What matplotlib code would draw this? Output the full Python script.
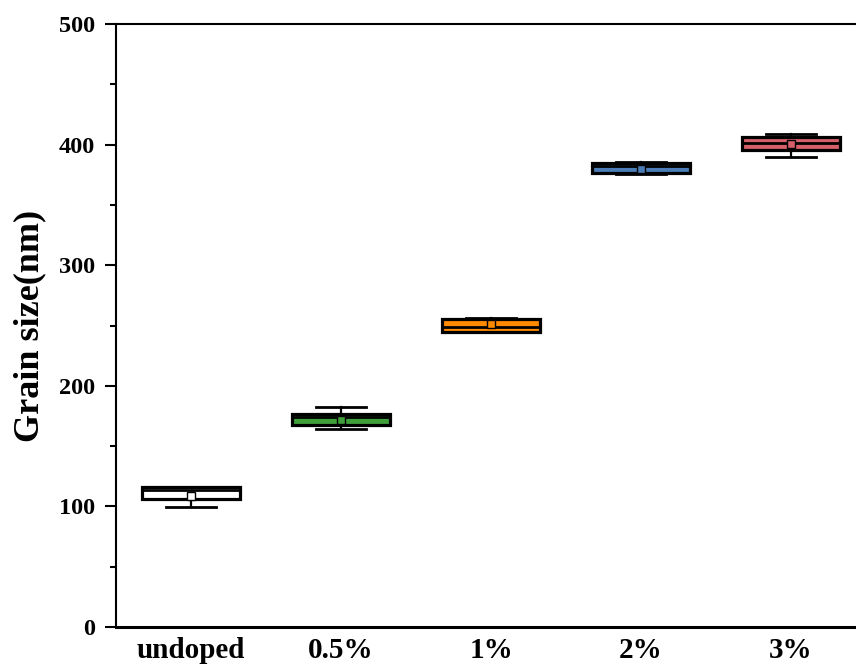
import matplotlib
matplotlib.use('Agg')
import matplotlib.pyplot as plt
from matplotlib.ticker import MultipleLocator

# values (nm)
labels = ['undoped', '0.5%', '1%', '2%', '3%']
whislo = [99.5, 163.9, 244.2, 375.4, 390.0]
q1 = [106.4, 167.1, 244.9, 376.2, 395.3]
med = [113.6, 174.5, 248.5, 382.0, 401.5]
q3 = [115.8, 176.8, 255.4, 384.5, 406.0]
whishi = [116.5, 182.2, 256.5, 385.3, 408.5]
means = [108.6, 171.6, 251.2, 379.5, 400.5]
colors = ['white', '#3f9f3a', '#ff8a00', '#4a7db5', '#d6606a']

plt.rcParams['font.family'] = ['Liberation Serif', 'DejaVu Serif']
plt.rcParams['font.weight'] = 'bold'

fig = plt.figure(figsize=(8.56, 6.64), dpi=100)
ax = fig.add_axes([116 / 856, 37 / 664, 750 / 856, 603 / 664])

stats = []
for i in range(len(labels)):
    stats.append(dict(label=labels[i], whislo=whislo[i], q1=q1[i], med=med[i],
                      q3=q3[i], whishi=whishi[i], mean=means[i], fliers=[]))

bp = ax.bxp(stats, positions=range(1, 6), widths=0.65, capwidths=0.33,
            patch_artist=True, showmeans=True,
            boxprops=dict(edgecolor='black', linewidth=2.3),
            medianprops=dict(color='black', linewidth=2.0),
            whiskerprops=dict(color='black', linewidth=1.6),
            capprops=dict(color='black', linewidth=2.0),
            meanprops=dict(marker='s', markersize=6, markeredgecolor='black',
                           markeredgewidth=1.0))

for box, mean_pt, c in zip(bp['boxes'], bp['means'], colors):
    box.set_facecolor(c)
    mean_pt.set_markerfacecolor(c)

ax.set_xlim(0.5, 5.5)
ax.set_ylim(0, 500)
ax.yaxis.set_major_locator(MultipleLocator(100))
ax.yaxis.set_minor_locator(MultipleLocator(50))

for side in ['left', 'bottom', 'top', 'right']:
    ax.spines[side].set_linewidth(1.5)
ax.spines['bottom'].set_linewidth(2.2)

ax.tick_params(axis='y', which='major', direction='out', length=8, width=1.5,
               pad=7, labelsize=17.5)
ax.tick_params(axis='y', which='minor', direction='out', length=4.5, width=1.5)
ax.tick_params(axis='x', length=0, pad=7, labelsize=21)

ax.set_ylabel('Grain size(nm)', fontsize=26, fontweight='bold')
ax.yaxis.set_label_coords(-0.093, 0.5)

fig.savefig('out.png', dpi=100)
